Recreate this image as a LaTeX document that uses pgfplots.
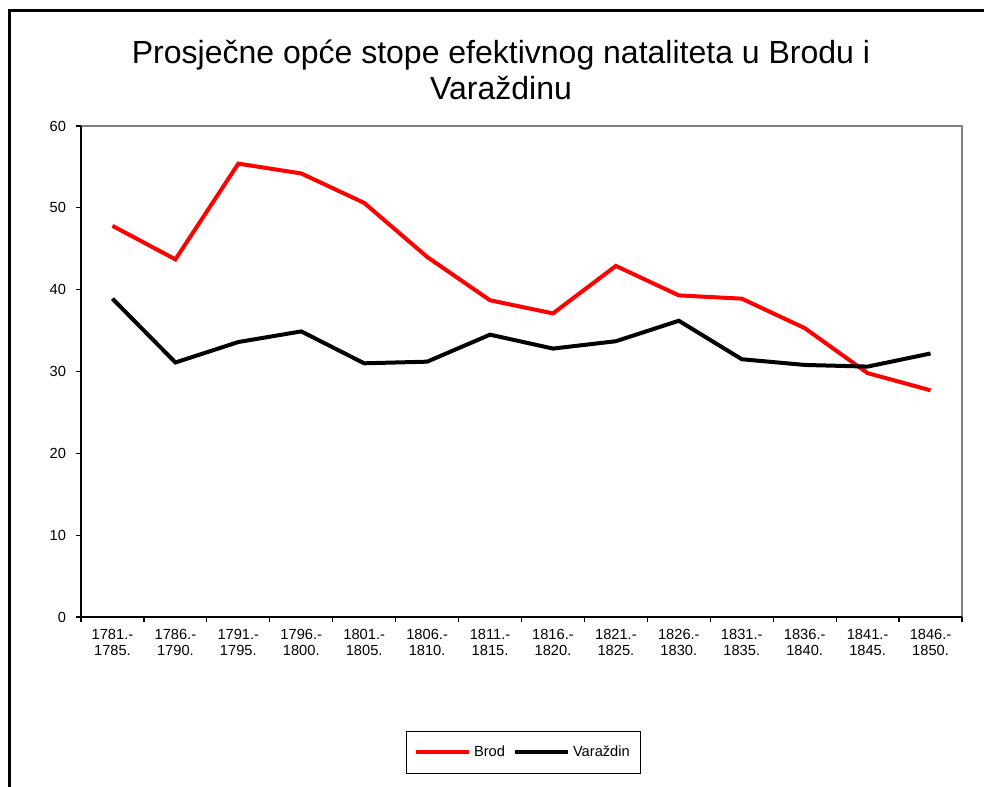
\documentclass[border=0pt]{standalone}
\usepackage{pgfplots}
\pgfplotsset{compat=1.18}
\usepackage{fontspec}
\setmainfont{Liberation Sans}

\begin{document}
\begin{tikzpicture}[x=0.75pt,y=0.75pt]
\useasboundingbox (0,0) rectangle (984,787);
% outer frame (top and left only)
\draw[line width=2.25pt] (9,0) -- (9,776) -- (984,776);
% title
\node[font=\fontsize{24}{27}\selectfont, align=center] at (501,717)
  {Prosječne opće stope efektivnog nataliteta u Brodu i\\Varaždinu};

\begin{axis}[
    at={(60.75pt,127.5pt)}, anchor=south west,
    scale only axis,
    width=660.75pt, height=368.25pt,
    xmin=-0.5, xmax=13.5,
    ymin=0, ymax=60,
    clip=false,
    axis line style={draw=none},
    xtick={0,...,13},
    xticklabels={{1781.-\\1785.},{1786.-\\1790.},{1791.-\\1795.},{1796.-\\1800.},
                 {1801.-\\1805.},{1806.-\\1810.},{1811.-\\1815.},{1816.-\\1820.},
                 {1821.-\\1825.},{1826.-\\1830.},{1831.-\\1835.},{1836.-\\1840.},
                 {1841.-\\1845.},{1846.-\\1850.}},
    minor xtick={-0.5,0.5,...,13.5},
    major x tick style={draw=none},
    minor x tick style={black, line width=0.9pt},
    ytick={0,10,...,60},
    ytick style={black, line width=0.9pt},
    xtick pos=left, ytick pos=left,
    tick align=outside,
    major tick length=3.75pt, minor tick length=3.75pt,
    /pgf/number format/assume math mode=true,
    xticklabel style={align=center, font=\fontsize{11}{12}\selectfont, yshift=-2pt},
    yticklabel style={font=\fontsize{11}{12}\selectfont, xshift=-4pt},
    legend columns=2,
    legend style={at={(0.502,-0.275)}, anchor=center, draw=black, line width=0.75pt,
        font=\fontsize{11}{12}\selectfont, inner xsep=6pt, inner ysep=9pt,
        /tikz/every even column/.append style={column sep=4pt}},
    legend image code/.code={\draw[#1] (0pt,0pt) -- (40pt,0pt);},
]
\addplot[red, line width=3pt] coordinates {
  (0,47.8) (1,43.7) (2,55.4) (3,54.2) (4,50.6) (5,44.0) (6,38.7)
  (7,37.1) (8,42.9) (9,39.3) (10,38.9) (11,35.3) (12,29.8) (13,27.7)
};
\addlegendentry{Brod}
\addplot[black, line width=3pt] coordinates {
  (0,38.9) (1,31.1) (2,33.6) (3,34.9) (4,31.0) (5,31.2) (6,34.5)
  (7,32.8) (8,33.7) (9,36.2) (10,31.5) (11,30.8) (12,30.6) (13,32.2)
};
\addlegendentry{Varaždin}
% plot area border: gray top and right, black left and bottom
\draw[gray, line width=1.5pt] (rel axis cs:0,1) -- (rel axis cs:1,1) -- (rel axis cs:1,0);
\draw[black, line width=2pt] (rel axis cs:0,1) -- (rel axis cs:0,0) -- (rel axis cs:1,0);
\end{axis}
\end{tikzpicture}
\end{document}
